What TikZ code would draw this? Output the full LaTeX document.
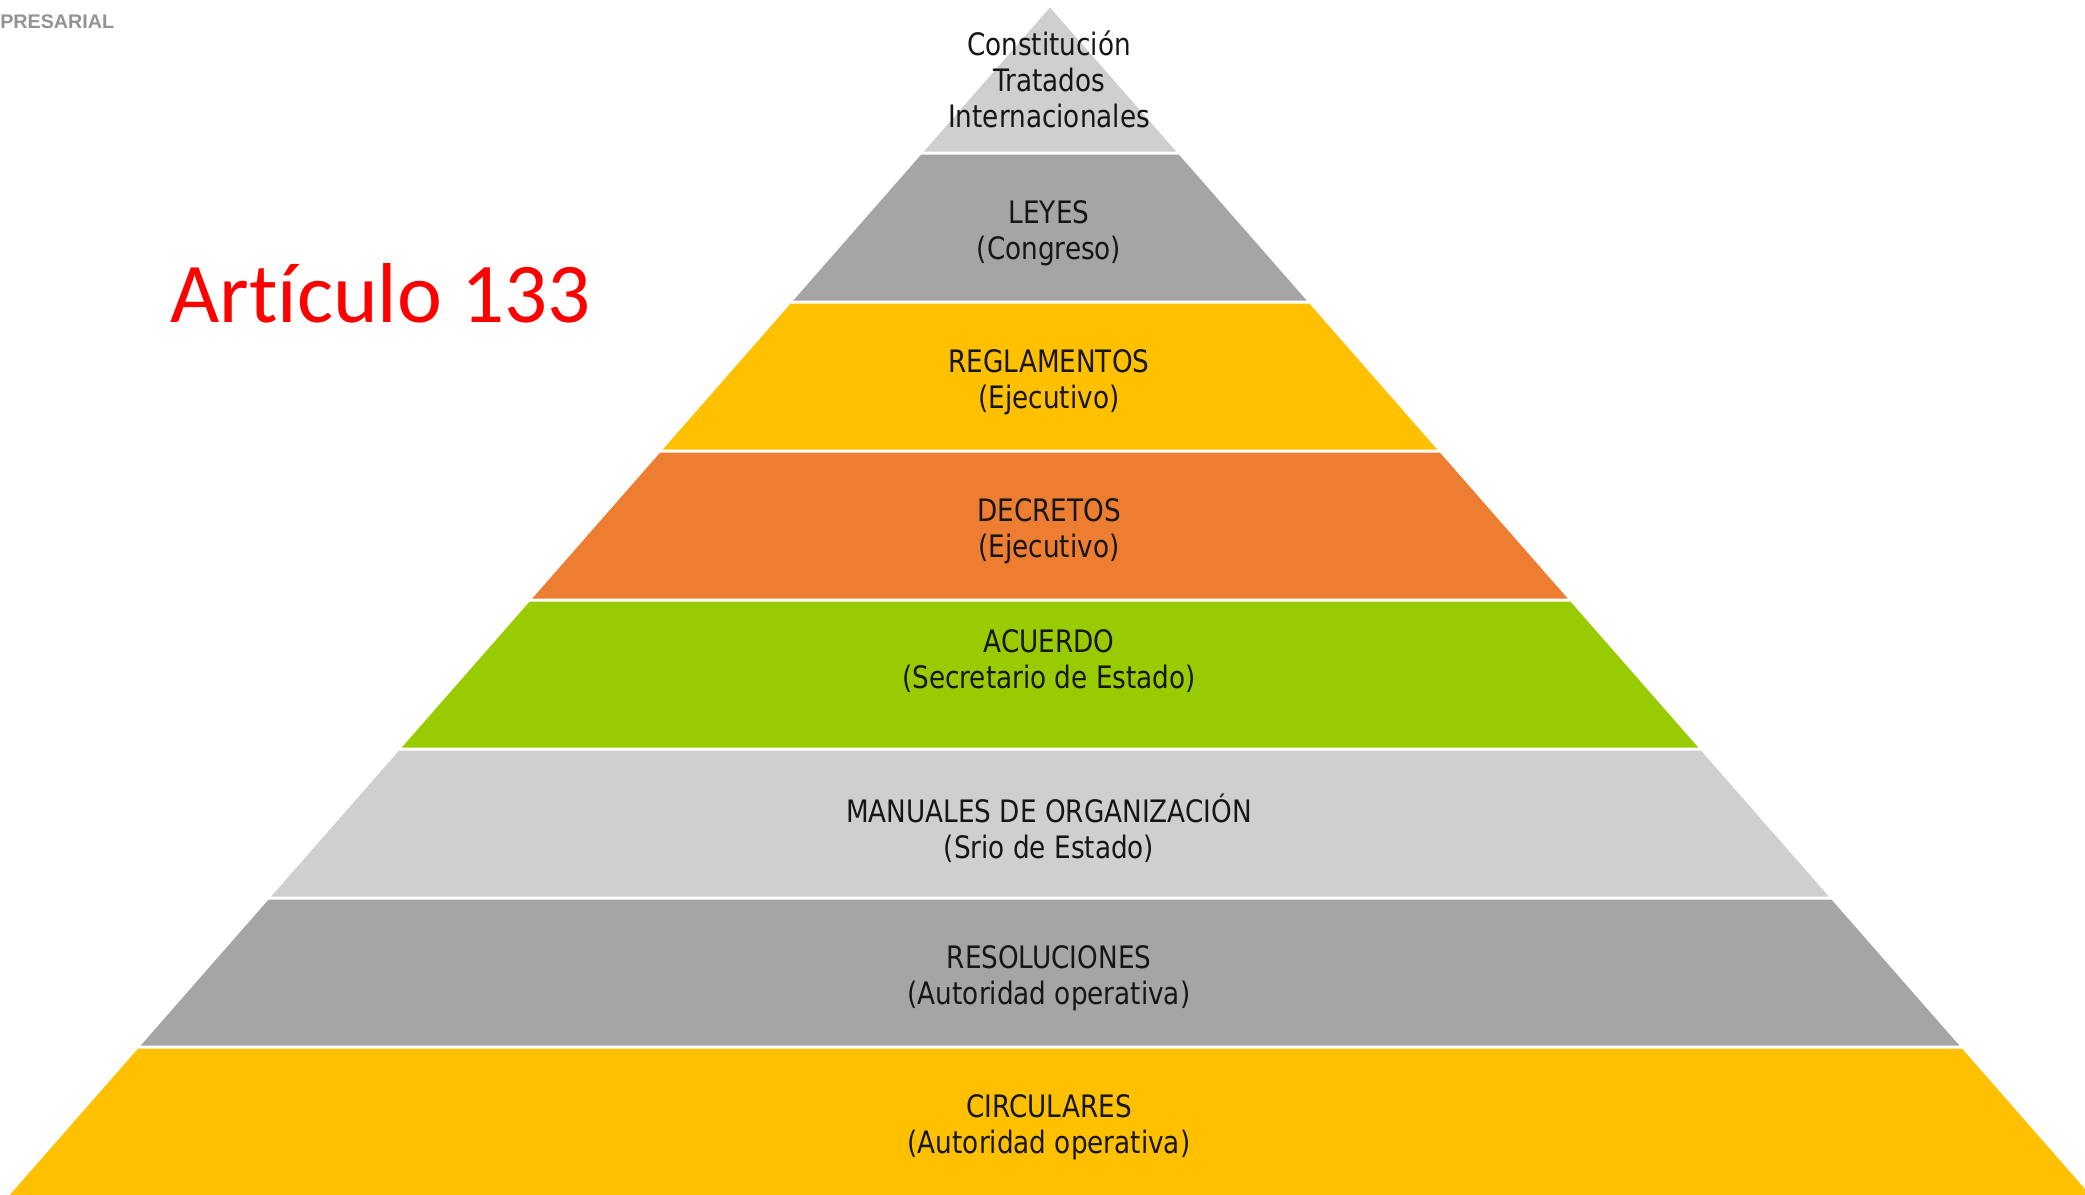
\documentclass[tikz,border=0pt]{standalone}
\usepackage{fontspec}
\setmainfont{DejaVu Sans}[FakeStretch=0.85]
\newfontfamily\calibrifont{Carlito}[Ligatures={NoCommon}]
\newfontfamily\arialfont{Liberation Sans}
\usetikzlibrary{calc}

\definecolor{grisclaro}{HTML}{D0CECE}
\definecolor{grismedio}{HTML}{A5A5A5}
\definecolor{amarillo}{HTML}{FFC000}
\definecolor{naranja}{HTML}{ED7D31}
\definecolor{verde}{HTML}{99CC00}
\definecolor{texto}{HTML}{161616}
\definecolor{rojo}{HTML}{FF0000}

\begin{document}
\begin{tikzpicture}[x=0.02cm,y=-0.02cm,
        nivel/.style={align=center,inner sep=0pt,text=texto,
            font=\fontsize{17.6}{20.5}\selectfont}]
        \useasboundingbox (0,0) rectangle (2085,1194);
        \clip (0,0) rectangle (2085,1194);

        % capas de la piramide
        \foreach \yt/\yb/\col in {7.5/151.5/grisclaro, 154.5/300.5/grismedio,
            303.5/449.5/amarillo, 452.5/598.5/naranja, 601.5/747.5/verde,
            750.5/896.5/grisclaro, 899.5/1045.5/grismedio, 1048.5/1196/amarillo}
        {
            \pgfmathsetmacro{\wt}{0.876*(\yt-7.5)}
            \pgfmathsetmacro{\wb}{0.876*(\yb-7.5)}
            \fill[\col] ({1050-\wt},\yt) -- ({1050+\wt},\yt)
                -- ({1050+\wb},\yb) -- ({1050-\wb},\yb) -- cycle;
        }

        \node[nivel] (constitucion) at (1049,79) {Constitución\\Tratados\\Internacionales};
        \node[nivel] (leyes) at (1049,233) {LEYES\\(Congreso)};
        \node[nivel] (reglamentos) at (1049,382) {REGLAMENTOS\\(Ejecutivo)};
        \node[nivel] (decretos) at (1049,531) {DECRETOS\\(Ejecutivo)};
        \node[nivel] (acuerdo) at (1049,661) {ACUERDO\\(Secretario de Estado)};
        \node[nivel] (manuales) at (1049,828) {MANUALES DE ORGANIZACIÓN\\(Srio de Estado)};
        \node[nivel] (resoluciones) at (1049,978) {RESOLUCIONES\\(Autoridad operativa)};
        \node[nivel] (circulares) at (1049,1127) {CIRCULARES\\(Autoridad operativa)};

        \node[anchor=base west,inner sep=0pt,text=rojo,
            font=\calibrifont\fontsize{48.4}{58}\selectfont] (articulo) at (170,322) {Artículo 133};
        \node[anchor=base west,inner sep=0pt,text=gray!85,
            font=\arialfont\bfseries\fontsize{11.2}{13}\selectfont] (empresarial) at (0,28) {PRESARIAL};
    \end{tikzpicture}
\end{document}
